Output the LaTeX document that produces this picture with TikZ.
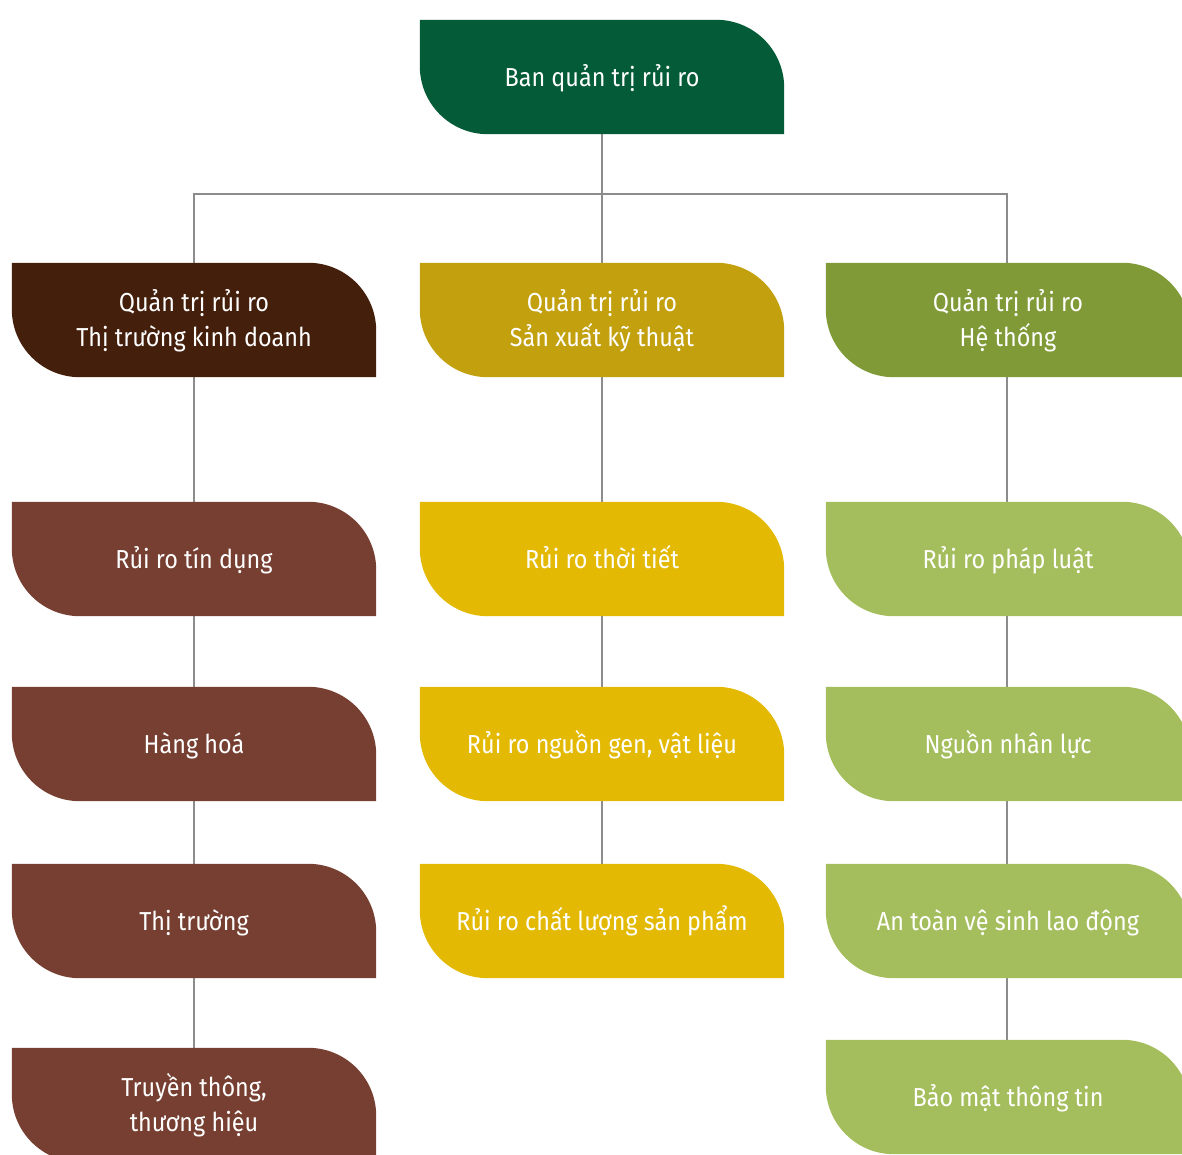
\documentclass[tikz,border=0pt]{standalone}
\usepackage{fontspec}
\setmainfont[FakeStretch=0.9]{Fira Sans}
\usetikzlibrary{backgrounds}

\definecolor{boardgreen}{HTML}{045B37}
\definecolor{mkthead}{HTML}{441F0B}
\definecolor{prodhead}{HTML}{C2A00E}
\definecolor{syshead}{HTML}{7F9A37}
\definecolor{mktitem}{HTML}{763F31}
\definecolor{proditem}{HTML}{E3B903}
\definecolor{sysitem}{HTML}{A5BE5D}
\definecolor{linkgray}{HTML}{8C8C8C}

\pgfdeclarelayer{fills}
\pgfsetlayers{background,fills,main}

\newcommand\cornerr{68pt}
% equal line height whatever accents a line carries
\newcommand\lstrut{\vphantom{Âg}}
\newcommand\nl{\\\lstrut}
% a box with rounded top-right and bottom-left corners
\newcommand\riskbox[4]{%
  \node[riskbox] (#1) at (#2) {\lstrut#4};
  \begin{pgfonlayer}{fills}
    \fill[#3] (#1.north west) -- ([xshift=-\cornerr]#1.north east)
      arc[start angle=90,end angle=0,radius=\cornerr] -- (#1.south east)
      -- ([xshift=\cornerr]#1.south west)
      arc[start angle=270,end angle=180,radius=\cornerr] -- cycle;
  \end{pgfonlayer}}

\begin{document}
\begin{tikzpicture}[x=1pt,y=1pt,
  riskbox/.style={minimum width=364pt,minimum height=114pt,inner sep=0pt,
    text=white,align=center,font=\fontsize{26}{35}\selectfont},
  link/.style={draw=linkgray,line width=2pt}]
\useasboundingbox (0,0) rectangle (1182,1155);

% board
\riskbox{top}{602,1078}{boardgreen}{Ban quản trị rủi ro}

% column heads
\riskbox{mkt}{194,835}{mkthead}{Quản trị rủi ro\nl Thị trường kinh doanh}
\riskbox{prod}{602,835}{prodhead}{Quản trị rủi ro\nl Sản xuất kỹ thuật}
\riskbox{sys}{1008,835}{syshead}{Quản trị rủi ro\nl Hệ thống}

% market and business risks
\riskbox{mkt1}{194,596}{mktitem}{Rủi ro tín dụng}
\riskbox{mkt2}{194,411}{mktitem}{Hàng hoá}
\riskbox{mkt3}{194,234}{mktitem}{Thị trường}
\riskbox{mkt4}{194,50}{mktitem}{Truyền thông,\nl thương hiệu}

% production and technical risks
\riskbox{prod1}{602,596}{proditem}{Rủi ro thời tiết}
\riskbox{prod2}{602,411}{proditem}{Rủi ro nguồn gen, vật liệu}
\riskbox{prod3}{602,234}{proditem}{Rủi ro chất lượng sản phẩm}

% system risks
\riskbox{sys1}{1008,596}{sysitem}{Rủi ro pháp luật}
\riskbox{sys2}{1008,411}{sysitem}{Nguồn nhân lực}
\riskbox{sys3}{1008,234}{sysitem}{An toàn vệ sinh lao động}
\riskbox{sys4}{1008,58}{sysitem}{Bảo mật thông tin}

\coordinate (bus) at (602,961);

\begin{pgfonlayer}{background}
  \draw[link] (top.south) -- (prod.north);
  \draw[link] (mkt.north) -- (mkt.north |- bus) -- ([xshift=-1pt]sys.north |- bus) -- ([xshift=-1pt]sys.north);
  \draw[link] (mkt) -- (mkt1) -- (mkt2) -- (mkt3) -- (mkt4);
  \draw[link] (prod) -- (prod1) -- (prod2) -- (prod3);
  \draw[link] ([xshift=-1pt]sys.center) -- ([xshift=-1pt]sys4.center);
\end{pgfonlayer}
\end{tikzpicture}
\end{document}
